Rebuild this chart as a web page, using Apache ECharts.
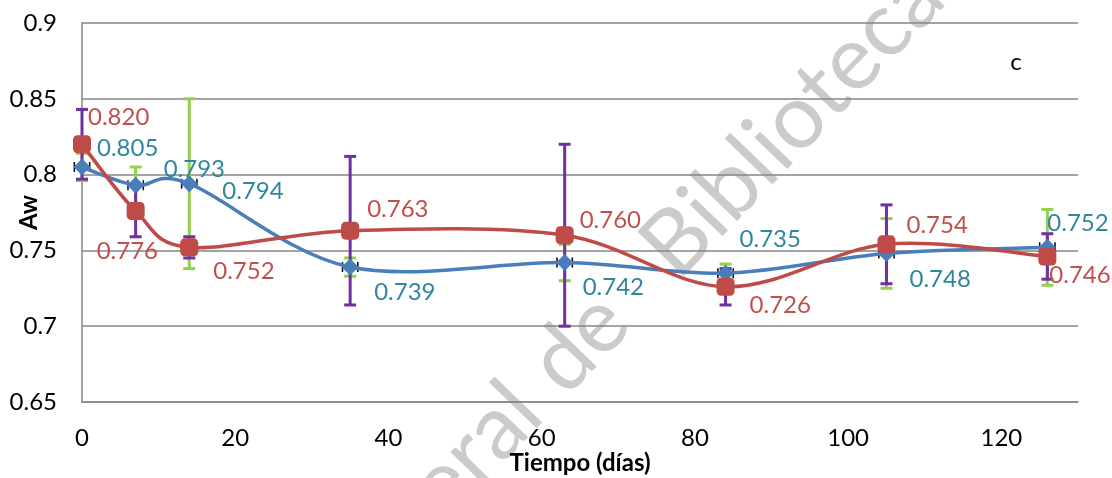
<!DOCTYPE html>
<html>
<head>
<meta charset="utf-8">
<script src="https://cdn.jsdelivr.net/npm/echarts@6/dist/echarts.min.js"></script>
<style>
  html, body { margin: 0; padding: 0; background: #fff; }
  #chart { width: 1112px; height: 478px; }
</style>
</head>
<body>
<div id="chart"></div>
<script>
// datos
const days = [0, 7, 14, 35, 63, 84, 105, 126];
const awBlue = [0.805, 0.793, 0.794, 0.739, 0.742, 0.735, 0.748, 0.752];
const awRed = [0.820, 0.776, 0.752, 0.763, 0.760, 0.726, 0.754, 0.746];
const errBlue = [0.009, 0.012, 0.056, 0.006, 0.012, 0.006, 0.023, 0.025];   // barras verdes
const errRed = [0.023, 0.017, 0.007, 0.049, 0.060, 0.012, 0.026, 0.015];    // barras moradas
const errDays = [1, 1, 1, 1, 1, 1, 1, 1];
const yTicks = [0.65, 0.7, 0.75, 0.8, 0.85, 0.9];
const xTicks = [0, 20, 40, 60, 80, 100, 120];

// desplazamiento de las etiquetas (px), solo estilo
const offBlue = [[15, -19], [28, -16], [33, 8], [24, 25], [18, 25], [14, -34], [23, 26], [0, -24]];
const offRed = [[6, -27], [-39, 40], [24, 24], [17, -21], [15, -15], [24, 18], [20, -19], [2, 19]];

const FONT = 'Lato, "Open Sans", sans-serif';
const chart = echarts.init(document.getElementById('chart'));

function lineData(vals, offs, color) {
    return days.map((d, i) => ({
        value: [d, vals[i]],
        label: {
            show: true,
            position: 'inside',
            align: 'left',
            verticalAlign: 'middle',
            offset: offs[i],
            color: color,
            fontSize: 24,
            fontFamily: FONT,
            formatter: p => p.value[1].toFixed(3)
        }
    }));
}

// curva suavizada tipo Excel (Catmull-Rom) entre puntos consecutivos
function curve(vals, color, z) {
    const n = days.length;
    return {
        type: 'custom',
        z: z,
        silent: true,
        data: days.map((d, i) => [d, vals[i]]),
        renderItem: (params, api) => {
            const i = params.dataIndex;
            if (i >= n - 1) return null;
            const P = k => {
                const j = Math.max(0, Math.min(n - 1, k));
                return api.coord([days[j], vals[j]]);
            };
            const p0 = P(i - 1), p1 = P(i), p2 = P(i + 1), p3 = P(i + 2);
            return {
                type: 'bezierCurve',
                shape: {
                    x1: p1[0], y1: p1[1], x2: p2[0], y2: p2[1],
                    cpx1: p1[0] + (p2[0] - p0[0]) / 6, cpy1: p1[1] + (p2[1] - p0[1]) / 6,
                    cpx2: p2[0] - (p3[0] - p1[0]) / 6, cpy2: p2[1] - (p3[1] - p1[1]) / 6
                },
                style: { stroke: color, lineWidth: 3.5, fill: 'none' }
            };
        }
    };
}

// barras de error verticales
function yErr(vals, errs, color) {
    return {
        type: 'custom',
        z: 1,
        silent: true,
        data: days.map((d, i) => [d, vals[i], errs[i]]),
        renderItem: (params, api) => {
            const x = api.value(0), y = api.value(1), e = api.value(2);
            const top = api.coord([x, y + e]);
            const bot = api.coord([x, y - e]);
            const st = { stroke: color, lineWidth: 3 };
            return {
                type: 'group',
                children: [
                    { type: 'line', shape: { x1: top[0], y1: top[1], x2: bot[0], y2: bot[1] }, style: st },
                    { type: 'line', shape: { x1: top[0] - 6, y1: top[1], x2: top[0] + 6, y2: top[1] }, style: st },
                    { type: 'line', shape: { x1: bot[0] - 6, y1: bot[1], x2: bot[0] + 6, y2: bot[1] }, style: st }
                ]
            };
        }
    };
}

// barras de error horizontales (negras)
function xErr(vals) {
    return {
        type: 'custom',
        z: 1,
        silent: true,
        data: days.map((d, i) => [d, vals[i], errDays[i]]),
        renderItem: (params, api) => {
            const x = api.value(0), y = api.value(1), e = api.value(2);
            const l = api.coord([x - e, y]);
            const r = api.coord([x + e, y]);
            const st = { stroke: '#000', lineWidth: 1.5 };
            return {
                type: 'group',
                children: [
                    { type: 'line', shape: { x1: l[0], y1: l[1], x2: r[0], y2: r[1] }, style: st },
                    { type: 'line', shape: { x1: l[0], y1: l[1] - 5, x2: l[0], y2: l[1] + 5 }, style: st },
                    { type: 'line', shape: { x1: r[0], y1: r[1] - 5, x2: r[0], y2: r[1] + 5 }, style: st }
                ]
            };
        }
    };
}

// marca de agua en diagonal
const WM_ROT = 46 * Math.PI / 180;
function wm(text, x, y, align) {
    return {
        type: 'text', z: -10, silent: true,
        x: x, y: y, rotation: WM_ROT,
        style: { text: text, align: align, verticalAlign: 'middle',
                 font: '90px ' + FONT, fill: '#cbcbcb' }
    };
}

const option = {
    backgroundColor: '#fff',
    animation: false,
    grid: { left: 82, right: 34, top: 23, bottom: 76, outerBoundsMode: 'none' },
    graphic: [
        wm('Dirección General ', 542, 381, 'right'),
        wm('de', 545, 378, 'left'),
        wm('Bibliotecas', 657, 262, 'left'),
        {
            type: 'text', z: 10,
            x: 1016, y: 62,
            style: { text: 'c', align: 'center', verticalAlign: 'middle',
                     font: '24px ' + FONT, fill: '#000' }
        }
    ],
    xAxis: {
        type: 'value',
        min: xTicks[0],
        max: 130,
        interval: 20,
        name: 'Tiempo (días)',
        nameLocation: 'middle',
        nameGap: 49,
        nameMoveOverlap: false,
        nameTextStyle: { color: '#000', fontSize: 24, fontWeight: 'bold', fontFamily: FONT },
        axisLine: { show: true, lineStyle: { color: '#868686', width: 1.5 } },
        axisTick: { show: false },
        splitLine: { show: false },
        axisLabel: {
            color: '#000', fontSize: 24, fontFamily: FONT, margin: 24,
            showMaxLabel: false,
            formatter: v => (xTicks.indexOf(v) >= 0 ? String(v) : '')
        }
    },
    yAxis: {
        type: 'value',
        min: yTicks[0],
        max: yTicks[yTicks.length - 1],
        interval: 0.05,
        name: 'Aw',
        nameLocation: 'middle',
        nameGap: 41,
        nameMoveOverlap: false,
        nameTextStyle: { color: '#000', fontSize: 24, fontWeight: 'bold', fontFamily: FONT },
        axisLine: { show: true, lineStyle: { color: '#868686', width: 1.5 } },
        axisTick: { show: false },
        splitLine: { show: true, lineStyle: { color: '#868686', width: 1.5 } },
        axisLabel: {
            color: '#000', fontSize: 24, fontFamily: FONT, margin: 25,
            formatter: v => String(parseFloat(v.toFixed(2)))
        }
    },
    series: [
        yErr(awBlue, errBlue, '#92D050'),
        yErr(awRed, errRed, '#7030A0'),
        xErr(awBlue),
        xErr(awRed),
        curve(awBlue, '#4A7EBB', 2),
        curve(awRed, '#BE4B48', 3),
        {
            name: 'A',
            type: 'line',
            z: 4,
            symbol: 'diamond',
            symbolSize: [17, 17],
            lineStyle: { opacity: 0 },
            itemStyle: { color: '#4A7EBB' },
            data: lineData(awBlue, offBlue, '#31859C')
        },
        {
            name: 'B',
            type: 'line',
            z: 5,
            symbol: 'roundRect',
            symbolSize: 18,
            lineStyle: { opacity: 0 },
            itemStyle: { color: '#BE4B48' },
            data: lineData(awRed, offRed, '#C0504D')
        }
    ]
};
chart.setOption(option);
</script>
</body>
</html>
